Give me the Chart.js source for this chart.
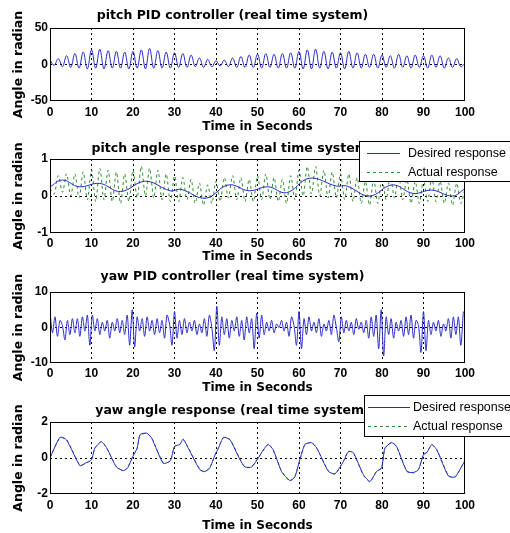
<!DOCTYPE html>
<html>
<head>
<meta charset="utf-8">
<script src="https://cdn.jsdelivr.net/npm/chart.js@4.4.0/dist/chart.umd.min.js"></script>
<style>
    html, body { margin: 0; padding: 0; background: #fff; width: 510px; height: 533px; overflow: hidden; }
    canvas { position: absolute; left: 0; }
</style>
</head>
<body>
<canvas id="pitchPid" width="510" height="134" style="top:0px"></canvas>
<canvas id="pitchAngle" width="510" height="131" style="top:133px"></canvas>
<canvas id="yawPid" width="510" height="131" style="top:264px"></canvas>
<canvas id="yawAngle" width="510" height="138" style="top:395px"></canvas>
<script>
// === Data ===
const pitchPidValues = [
    6, -1, 8, -3, 12, -4, 15, -5, 17, -6,
    20, -5, 21, -6, 19, -5, 18, -5, 17, -6,
    18, -5, 20, -6, 22, -5, 19, -5, 17, -5,
    16, -4, 15, -4, 13, -3, 9, -4, 7, -3,
    5, -2, 6, -3, 9, -4, 11, -4, 13, -4,
    14, -5, 15, -4, 14, -5, 15, -5, 16, -5,
    18, -6, 20, -6, 21, -5, 18, -6, 17, -5,
    16, -6, 18, -5, 16, -5, 14, -4, 14, -5,
    13, -4, 12, -5, 14, -4, 12, -5, 13, -4,
    12, -5, 13, -4, 12, -5, 9, -4, 8, -3,
    2
];

const pitchDesiredTimes = [0, 3, 7, 12, 17, 23, 29, 31.5, 37.5, 43, 48, 52.5, 57, 62.5, 69, 71.5, 77, 82.5, 87.5, 92, 97, 100];
const pitchDesiredValues = [0.25, 0.43, 0.25, 0.34, 0.12, 0.4, 0.14, 0.18, -0.06, 0.3, 0.14, 0.25, 0.09, 0.48, 0.27, 0.27, 0.0, 0.3, 0.07, 0.16, 0.0, 0.2];

const pitchActualValues = [
    0.2, 0.05, 0.55, 0.1, 0.6, 0.0, 0.6, -0.05, 0.65, -0.1,
    0.7, -0.15, 0.75, -0.1, 0.7, -0.15, 0.65, -0.2, 0.6, -0.15,
    0.7, -0.05, 0.8, 0.0, 0.75, -0.05, 0.7, -0.1, 0.6, -0.15,
    0.55, -0.15, 0.5, -0.1, 0.45, -0.2, 0.35, -0.25, 0.3, -0.2,
    0.4, -0.15, 0.5, -0.05, 0.55, -0.1, 0.5, -0.15, 0.45, -0.15,
    0.55, -0.1, 0.6, -0.1, 0.5, -0.15, 0.45, -0.2, 0.55, -0.1,
    0.7, 0.0, 0.8, 0.05, 0.8, 0.0, 0.7, -0.05, 0.65, -0.05,
    0.6, -0.1, 0.6, -0.15, 0.5, -0.2, 0.4, -0.25, 0.45, -0.2,
    0.5, -0.1, 0.55, -0.05, 0.55, -0.1, 0.45, -0.2, 0.4, -0.2,
    0.45, -0.15, 0.5, -0.15, 0.4, -0.2, 0.35, -0.25, 0.35, -0.2,
    0.2
];

const yawPidStep = 0.6;
const yawPidValues = [
    4.5, -1.5, 3, -2.5, 2, 0.5, -3.5, 2, -2, 2.5,
    -1.5, 2.5, -2.5, 3, -1, 3.5, -5, 3.5, -1, 2.5,
    -2, 1.5, -1, 2, -3, 1.5, -1, 2.5, -1.5, 2,
    -2, 3.5, -5, 5, -5.5, 3, -1, 2.5, -2.5, 3,
    -1, 2, -2, 2.5, -1.5, 2, -3, 3.5, 1, -5,
    4.5, -3, 2, -2, 2.5, -1.5, 1.5, -1, 2, -2,
    1, -1.5, 2.5, -2.5, 3.5, 0, -6.5, 6, -5, 3,
    -2, 2.5, -3, 2, -1, 3, -2.5, 2, -3.5, 3,
    -1.5, 2.5, -6, 4, -3, 3.5, -2, 1.5, -1, 2,
    -1.5, 1, 0, 2, -1, 1.5, -2.5, 3, 0.5, -5,
    4.5, -6, 2.5, -2, 3, -1, 1.5, -1.5, 2.5, -2.5,
    1, -1, 2, -2, 3.5, 0, -4, 3, -1.5, 2,
    -1, 1.5, -2, 2.5, -0.5, 1.5, -1.5, 2, -3, 3,
    -2.5, 3.5, -6, 5, -8, 3, -2, 2.5, -3, 1.5,
    -1, 2, -2.5, 3, -2, 3.5, -3, 2, 0.5, -7,
    4.5, -6.5, 2, -2, 1.5, -1, 2, -2.5, 1, -1,
    2.5, -3, 3, -2, 3, -5, 4.5
];

const yawTimes = [0, 2.4, 4, 7.2, 8.4, 10, 10.8, 12.4, 13.7, 16, 17.7, 18.7, 20, 21, 21.7, 23.3, 24.5, 27.3, 29, 30,
    31.3, 32.1, 33.3, 36.1, 37.3, 38.5, 39.8, 40.6, 41.8, 43.4, 45.8, 47, 48.6, 50.2, 51.4, 52.6, 53.8, 55.8, 57.8, 59,
    60.2, 61.4, 63, 64.3, 67.1, 68.7, 70.7, 71.9, 73.1, 75.5, 77.1, 78.7, 79.9, 80.7, 82.3, 83.5, 86, 87.6, 88.8, 90,
    90.8, 92, 93.2, 96, 97.6, 100];
const yawDesiredValues = [0, 1.15, 1.0, -0.43, -0.3, -0.1, 0.55, 0.9, 0.55, -0.5, -0.7, -0.55, 0.1, 0.55, 1.3, 1.38, 1.1, -0.3, -0.15, 0.65,
    0.75, 1.05, 0.55, -0.65, -0.75, -0.55, 0.2, 0.55, 1.15, 1.0, -0.1, -0.5, -0.5, 0, 0.45, 0.75, 0.45, -0.75, -1.25, -1.05,
    -0.1, 0.75, 0.85, 0.55, -0.75, -0.87, -0.2, 0.35, 0.3, -0.92, -1.3, -0.75, -0.55, 0.55, 0.85, 0.65, -0.75, -0.8, -0.65, 0.2,
    0.3, 0.75, 0.45, -1.0, -1.05, -0.15];
const yawActualValues = [0.02, 1.12, 1.03, -0.4, -0.33, -0.08, 0.52, 0.93, 0.52, -0.47, -0.72, -0.52, 0.12, 0.52, 1.27, 1.36, 1.12, -0.27, -0.17, 0.62,
    0.78, 1.02, 0.58, -0.62, -0.78, -0.52, 0.17, 0.58, 1.12, 1.03, -0.07, -0.53, -0.47, 0.03, 0.42, 0.78, 0.42, -0.72, -1.28, -1.02,
    -0.12, 0.72, 0.88, 0.52, -0.72, -0.9, -0.17, 0.38, 0.27, -0.95, -1.33, -0.72, -0.58, 0.52, 0.88, 0.62, -0.72, -0.83, -0.62, 0.17,
    0.33, 0.72, 0.48, -0.97, -1.08, -0.12];

const legendLabels = ["Desired response", "Actual response"];
const chartTitles = [
    "pitch PID controller (real time system)",
    "pitch angle response (real time system)",
    "yaw PID controller (real time system)",
    "yaw angle response (real time system)"
];
const xAxisTitle = "Time in Seconds";
const yAxisTitle = "Angle in radian";

// === Styling ===
const chartProps = {
    blue: "#2a2acc",
    green: "#2e8f2e",
    gridColor: "#000",
    gridDash: [2, 3],
    titleFont: { family: "DejaVu Sans", size: 12.5, weight: "bold" },
    axisTitleFont: { family: "DejaVu Sans", size: 12, weight: "bold" },
    tickFont: { family: "Liberation Sans", size: 12, weight: "bold" },
    legendFont: "12.5px 'Liberation Sans'"
};

function sampleTimes(count, step) {
    const t = [];
    for (let i = 0; i < count; i++) t.push(Math.round(i * step * 100) / 100);
    return t;
}

function toPoints(times, values) {
    return values.map((v, i) => ({ x: times[i], y: v }));
}

const framePlugin = {
    id: "frame",
    afterDatasetsDraw(chart) {
        const { ctx, chartArea: a } = chart;
        ctx.save();
        ctx.strokeStyle = "#000";
        ctx.lineWidth = 1;
        ctx.strokeRect(a.left + 0.5, a.top + 0.5, a.width - 1, a.height - 1);
        ctx.restore();
    }
};

const legendBoxPlugin = {
    id: "legendBox",
    afterDraw(chart, args, opts) {
        const b = opts.box;
        if (!b) return;
        const { ctx } = chart;
        ctx.save();
        ctx.fillStyle = "#fff";
        ctx.fillRect(b.x, b.y, b.w, b.h);
        ctx.strokeStyle = "#000";
        ctx.lineWidth = 1;
        ctx.strokeRect(b.x + 0.5, b.y + 0.5, b.w, b.h);
        ctx.font = chartProps.legendFont;
        ctx.textBaseline = "middle";
        chart.data.datasets.forEach((ds, i) => {
            const y = Math.round(b.y + b.rows[i]) + 0.5;
            ctx.strokeStyle = ds.borderColor;
            ctx.setLineDash(ds.borderDash || []);
            ctx.beginPath();
            ctx.moveTo(b.x + b.lineX0, y);
            ctx.lineTo(b.x + b.lineX1, y);
            ctx.stroke();
            ctx.fillStyle = "#000";
            ctx.fillText(ds.label, b.x + b.textX, y);
        });
        ctx.restore();
    }
};

function interiorGrid(ctx) {
    const s = ctx.scale;
    const v = ctx.tick ? ctx.tick.value : null;
    return (v === s.min || v === s.max) ? "rgba(0,0,0,0)" : chartProps.gridColor;
}

function getScales(yMin, yMax, yStep, xHeight, tickPad) {
    return {
        x: {
            type: "linear",
            min: 0,
            max: 100,
            ticks: { stepSize: 10, padding: tickPad, font: chartProps.tickFont, color: "#000", maxRotation: 0 },
            grid: { color: interiorGrid, lineWidth: 1, drawTicks: false },
            border: { display: false, dash: chartProps.gridDash },
            title: { display: true, text: xAxisTitle, font: chartProps.axisTitleFont, color: "#000", padding: 0 },
            afterFit: s => { s.height = xHeight; }
        },
        y: {
            min: yMin,
            max: yMax,
            ticks: { stepSize: yStep, padding: 2, font: chartProps.tickFont, color: "#000" },
            grid: { color: interiorGrid, lineWidth: 1, drawTicks: false },
            border: { display: false, dash: chartProps.gridDash },
            title: { display: true, text: yAxisTitle, font: chartProps.titleFont, color: "#000", padding: { top: 11, bottom: 0 } },
            afterFit: s => { s.width = 50; }
        }
    };
}

function lineDataset(label, points, color, dash, tension) {
    return {
        label: label,
        data: points,
        borderColor: color,
        borderWidth: 1,
        borderDash: dash,
        pointRadius: 0,
        tension: tension,
        fill: false
    };
}

function createPanel(id, cfg) {
    return new Chart(document.getElementById(id), {
        type: "line",
        data: { datasets: cfg.datasets },
        options: {
            responsive: false,
            maintainAspectRatio: false,
            animation: false,
            layout: { padding: { left: 0, right: 45, top: 0, bottom: 0 } },
            scales: getScales(cfg.yMin, cfg.yMax, cfg.yStep, cfg.xHeight, cfg.tickPad),
            plugins: {
                legend: { display: false },
                tooltip: { enabled: false },
                title: {
                    display: true,
                    text: cfg.title,
                    font: chartProps.titleFont,
                    color: "#000",
                    padding: { top: cfg.titleTop, bottom: cfg.titleBottom }
                },
                legendBox: { box: cfg.legend || null }
            }
        },
        plugins: [framePlugin, legendBoxPlugin]
    });
}

const unitTimes = sampleTimes(pitchPidValues.length, 1);
const yawPidTimes = sampleTimes(yawPidValues.length, yawPidStep);

createPanel("pitchPid", {
    title: chartTitles[0],
    titleTop: 8.5, titleBottom: 4.5,
    yMin: -50, yMax: 50, yStep: 50,
    xHeight: 33, tickPad: 4,
    datasets: [lineDataset("pitch PID", toPoints(unitTimes, pitchPidValues), chartProps.blue, [], 0.4)]
});

createPanel("pitchAngle", {
    title: chartTitles[1],
    titleTop: 8.5, titleBottom: 2.5,
    yMin: -1, yMax: 1, yStep: 1,
    xHeight: 31, tickPad: 3,
    legend: { x: 359, y: 8, w: 151, h: 40, rows: [11.7, 30.7], lineX0: 8, lineX1: 41, textX: 49 },
    datasets: [
        lineDataset(legendLabels[0], toPoints(pitchDesiredTimes, pitchDesiredValues), chartProps.blue, [], 0.4),
        lineDataset(legendLabels[1], toPoints(unitTimes, pitchActualValues), chartProps.green, [3, 3], 0.3)
    ]
});

createPanel("yawPid", {
    title: chartTitles[2],
    titleTop: 5.5, titleBottom: 7.5,
    yMin: -10, yMax: 10, yStep: 10,
    xHeight: 32, tickPad: 3,
    datasets: [lineDataset("yaw PID", toPoints(yawPidTimes, yawPidValues), chartProps.blue, [], 0.3)]
});

createPanel("yawAngle", {
    title: chartTitles[3],
    titleTop: 8.5, titleBottom: 3.5,
    yMin: -2, yMax: 2, yStep: 2,
    xHeight: 39, tickPad: 4,
    legend: { x: 364, y: 0, w: 146, h: 41, rows: [11.7, 30.7], lineX0: 4, lineX1: 46, textX: 49 },
    datasets: [
        lineDataset(legendLabels[0], toPoints(yawTimes, yawDesiredValues), chartProps.blue, [], 0.2),
        lineDataset(legendLabels[1], toPoints(yawTimes, yawActualValues), chartProps.green, [3, 3], 0.2)
    ]
});
</script>
</body>
</html>
